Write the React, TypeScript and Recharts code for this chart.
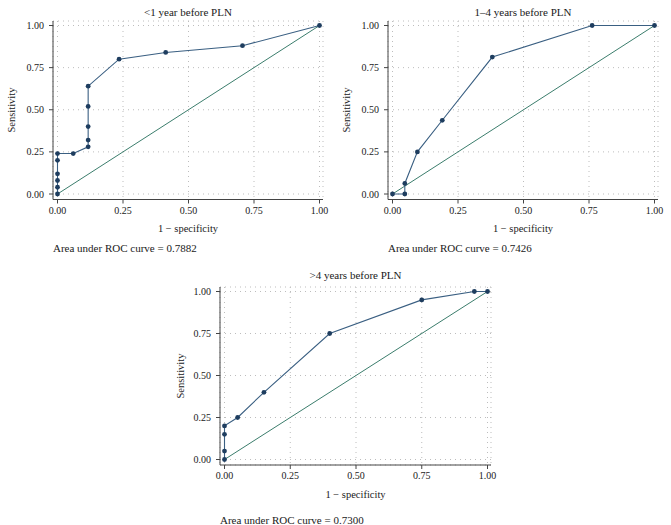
import React from 'react';
import { LineChart, Line, XAxis, YAxis, CartesianGrid } from 'recharts';

// ROC points: false positive rate (1 - specificity) and sensitivity
const fprUnder1 = [0, 0, 0, 0, 0, 0, 0.06, 0.117, 0.117, 0.117, 0.117, 0.117, 0.235, 0.413, 0.706, 1];
const tprUnder1 = [0, 0.04, 0.08, 0.12, 0.2, 0.24, 0.24, 0.28, 0.32, 0.4, 0.52, 0.64, 0.8, 0.84, 0.88, 1];

const fpr1to4 = [0, 0.047, 0.047, 0.095, 0.19, 0.381, 0.762, 1];
const tpr1to4 = [0, 0, 0.0625, 0.25, 0.4375, 0.8125, 1, 1];

const fprOver4 = [0, 0, 0, 0, 0.05, 0.15, 0.4, 0.75, 0.95, 1];
const tprOver4 = [0, 0.05, 0.15, 0.2, 0.25, 0.4, 0.75, 0.95, 1, 1];

const titles = ['<1 year before PLN', '1–4 years before PLN', '>4 years before PLN'];
const aucValues = ['0.7882', '0.7426', '0.7300'];
const axisTicks = [0, 0.25, 0.5, 0.75, 1];
const chanceX = [0, 1];
const chanceY = [0, 1];

const FONT = '"Liberation Serif", "DejaVu Serif", serif';
const ROC_LINE = '#3a5f82';
const ROC_DOT = '#1e3d5f';
const CHANCE_LINE = '#3b7d6c';

interface Box { x0: number; x1: number; y0: number; y1: number }

interface PanelProps {
  box: Box;
  title: string;
  auc: string;
  fpr: number[];
  tpr: number[];
  titleY: number;
  aucY: number;
  xLabelY: number;
  yLabelX: number;
}

const fmt = (v: number) => v.toFixed(2);

const Txt: React.FC<{ x: number; y: number; size: number; rotate?: boolean; anchor?: 'center' | 'left'; children: React.ReactNode }> = ({ x, y, size, rotate, anchor = 'center', children }) => (
  <div
    style={{
      position: 'absolute',
      left: x,
      top: y,
      fontFamily: FONT,
      fontSize: size,
      color: '#1a1a1a',
      whiteSpace: 'nowrap',
      lineHeight: 1,
      transform: `translate(${anchor === 'center' ? '-50%' : '0'}, -50%)${rotate ? ' rotate(-90deg)' : ''}`,
    }}
  >
    {children}
  </div>
);

const RocPanel: React.FC<PanelProps> = ({ box, title, auc, fpr, tpr, titleY, aucY, xLabelY, yLabelX }) => {
  const data = fpr.map((f, i) => ({ fpr: f, tpr: tpr[i] }));
  const chance = chanceX.map((f, i) => ({ fpr: f, tpr: chanceY[i] }));

  // padding inside the axis box, in pixels, converted to data units
  const xUnit = box.x1 - box.x0 - 8;
  const yUnit = box.y1 - box.y0 - 10;
  const xDomain = [-4.5 / xUnit, 1 + 3.5 / xUnit];
  const yDomain = [-5.5 / yUnit, 1 + 4.5 / yUnit];

  const width = box.x1 - box.x0 + 60;
  const height = box.y1 - box.y0 + 50;
  const midX = (box.x0 + box.x1) / 2;
  const midY = (box.y0 + box.y1) / 2;
  const tick = { fill: '#1a1a1a', fontSize: 10, fontFamily: FONT };

  return (
    <>
      <div style={{ position: 'absolute', left: box.x0 - 50, top: box.y0 - 20 }}>
        <LineChart width={width} height={height} margin={{ top: 20, right: 10, left: 5, bottom: 0 }}>
          <CartesianGrid stroke="#bdbdbd" strokeDasharray="1 4" />
          <XAxis
            type="number"
            dataKey="fpr"
            domain={xDomain}
            allowDataOverflow
            ticks={axisTicks}
            tickFormatter={fmt}
            tick={tick}
            tickSize={4}
            tickMargin={3}
            height={30}
            stroke="#444"
          />
          <YAxis
            type="number"
            dataKey="tpr"
            domain={yDomain}
            allowDataOverflow
            ticks={axisTicks}
            tickFormatter={fmt}
            tick={tick}
            tickSize={4}
            tickMargin={5}
            width={45}
            stroke="#444"
          />
          <Line
            data={chance}
            dataKey="tpr"
            stroke={CHANCE_LINE}
            strokeWidth={1}
            dot={false}
            isAnimationActive={false}
          />
          <Line
            data={data}
            dataKey="tpr"
            stroke={ROC_LINE}
            strokeWidth={1.1}
            dot={{ r: 2.4, fill: ROC_DOT, stroke: ROC_DOT, strokeWidth: 0 }}
            isAnimationActive={false}
          />
        </LineChart>
      </div>
      <Txt x={midX} y={titleY} size={11}>{title}</Txt>
      <Txt x={midX} y={xLabelY} size={10.5}>1 − specificity</Txt>
      <Txt x={yLabelX} y={midY} size={10.5} rotate>Sensitivity</Txt>
      <Txt x={box.x0} y={aucY} size={11} anchor="left">Area under ROC curve = {auc}</Txt>
    </>
  );
};

export default function App() {
  return (
    <div style={{ position: 'absolute', left: 0, top: 0, width: 671, height: 525, background: '#fff', overflow: 'hidden' }}>
      <RocPanel
        box={{ x0: 53, x1: 323, y0: 21, y1: 199.5 }}
        title={titles[0]}
        auc={aucValues[0]}
        fpr={fprUnder1}
        tpr={tprUnder1}
        titleY={12}
        xLabelY={229}
        aucY={248}
        yLabelX={12}
      />
      <RocPanel
        box={{ x0: 388, x1: 658, y0: 21, y1: 199.5 }}
        title={titles[1]}
        auc={aucValues[1]}
        fpr={fpr1to4}
        tpr={tpr1to4}
        titleY={12}
        xLabelY={229}
        aucY={248}
        yLabelX={347}
      />
      <RocPanel
        box={{ x0: 220, x1: 491, y0: 287, y1: 465 }}
        title={titles[2]}
        auc={aucValues[2]}
        fpr={fprOver4}
        tpr={tprOver4}
        titleY={275}
        xLabelY={495}
        aucY={520}
        yLabelX={181}
      />
    </div>
  );
}
